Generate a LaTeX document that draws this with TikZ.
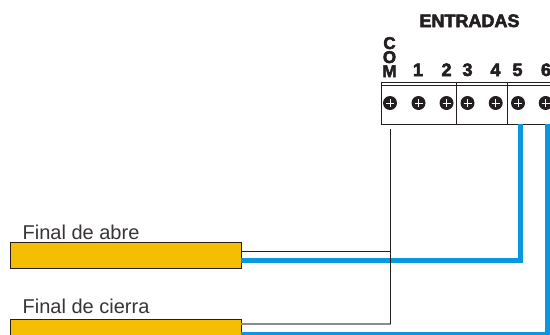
\documentclass[tikz,border=0pt]{standalone}
\usepackage{fontspec}
\setmainfont{Liberation Sans}
\newfontfamily\heavy[FakeBold=3]{Liberation Sans Bold}
\definecolor{wireblue}{HTML}{0A97E0}
\definecolor{gold}{HTML}{F5BE00}
\definecolor{ink}{HTML}{231F20}
\tikzset{
  sensor/.style={draw=ink,line width=0.9pt,fill=gold,minimum width=231pt,minimum height=25.5pt,inner sep=0pt,anchor=north west},
  sensorlabel/.style={text=ink!90,font=\fontsize{20}{20}\selectfont,inner sep=0pt,anchor=base west},
  head/.style={text=ink,font=\heavy\fontsize{18}{18}\selectfont,inner sep=0pt,anchor=base},
  comletter/.style={head,font=\heavy\fontsize{17}{17}\selectfont},
  blockline/.style={draw=ink,line width=0.9pt},
  thickwire/.style={draw=wireblue,line width=4.6pt,line join=miter},
  comwire/.style={draw=ink,line width=0.8pt},
  greywire/.style={draw=black!45,line width=1.8pt},
  screw/.style={circle,fill=ink,minimum size=14pt,inner sep=0pt,
    path picture={\draw[white,line width=0.7pt]
      ([xshift=-4pt]path picture bounding box.center)--([xshift=4pt]path picture bounding box.center)
      ([yshift=-4pt]path picture bounding box.center)--([yshift=4pt]path picture bounding box.center);}},
}
\begin{document}
\begin{tikzpicture}[x=1pt,y=-1pt]
\useasboundingbox (0,0) rectangle (550,335);
\clip (0,0) rectangle (550,335);
\fill[white] (0,0) rectangle (550,335);
% labels
\node[head] (title) at (469.5,27) {ENTRADAS};
\node[comletter] (c) at (389.5,49) {C};
\node[comletter] (o) at (389.5,63) {O};
\node[comletter] (m) at (389.5,77) {M};
\foreach \t/\x in {1/418,2/446.5,3/467.5,4/495.5,5/517.5,6/546}
  \node[head] (n\t) at (\x,76) {\t};
% terminal block
\coordinate (bl) at (381,82.5);
\coordinate (bl2) at (381,85.5);
\coordinate (br) at (552,82.5);
\coordinate (br2) at (552,85.5);
\coordinate (bb) at (381,124);
\coordinate (bbr) at (552,124);
\draw[blockline] (br)--(bl)--(bb)--(bbr);
\draw[blockline,line width=0.6pt] (bl2)--(br2);
\draw[blockline] (456.3,82.5)--(456.3,124);
\draw[blockline] (507,82.5)--(507,124);
\foreach \n/\x in {0/390,1/418.5,2/446.5,3/467.5,4/495.7,5/518,6/545.7}
  \node[screw] (s\n) at (\x,103) {};
% sensors
\node[sensor] (abre) at (10,242) {};
\node[sensor] (cierra) at (10,318.7) {};
\node[sensorlabel] (la) at (22.5,239.5) {Final de abre};
\node[sensorlabel] (lc) at (22.5,313.5) {Final de cierra};
% wiring
\coordinate (comtop) at (390.5,129);
\coordinate (a1) at (241,251.5);
\coordinate (a1e) at (390.5,251.5);
\coordinate (c1) at (241,324);
\coordinate (c1e) at (390.5,324);
\coordinate (b5a) at (241,260.5);
\coordinate (b5b) at (520.5,260.5);
\coordinate (b5c) at (520.5,124);
\coordinate (b6a) at (241,334.5);
\coordinate (b6b) at (547.5,334.5);
\coordinate (b6c) at (547.5,124);
\draw[thickwire] (b5a)--(b5b)--(b5c);
\draw[thickwire] (b6a)--(b6b)--(b6c);
\draw[comwire] (a1)--(a1e);
\draw[greywire] (c1)--(c1e);
\draw[comwire] (comtop)--(c1e);
\end{tikzpicture}
\end{document}
